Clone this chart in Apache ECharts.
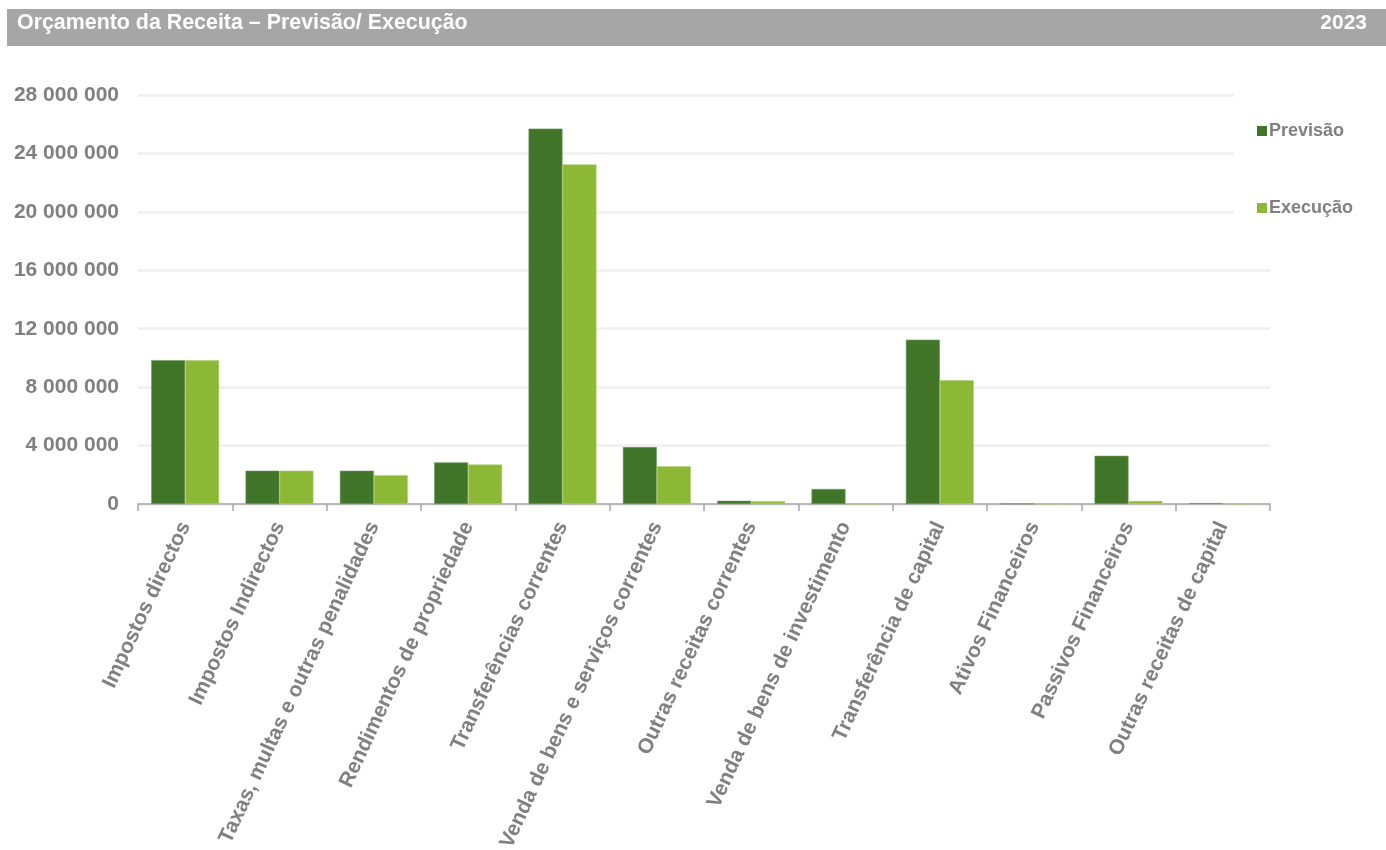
<!DOCTYPE html>
<html><head><meta charset="utf-8">
<script src="https://cdn.jsdelivr.net/npm/echarts@6/dist/echarts.min.js"></script>
<style>html,body{margin:0;padding:0;background:#fff}#c{width:1386px;height:850px}</style>
</head><body><div id="c"></div>
<script>
const titleText = 'Orçamento da Receita – Previsão/ Execução';
const yearText = '2023';
const categories = ['Impostos directos','Impostos Indirectos','Taxas, multas e outras penalidades','Rendimentos de propriedade','Transferências correntes','Venda de bens e serviços correntes','Outras receitas correntes','Venda de bens de investimento','Transferência de capital','Ativos Financeiros','Passivos Financeiros','Outras receitas de capital'];
const previsao = [9850000, 2280000, 2280000, 2850000, 25700000, 3900000, 220000, 1030000, 11250000, 20000, 3300000, 60000];
const execucao = [9850000, 2280000, 1980000, 2700000, 23250000, 2580000, 200000, 20000, 8480000, 15000, 210000, 20000];
const seriesNames = ['Previsão','Execução'];
const yTicks = {min:0, max:28000000, interval:4000000};

const chart = echarts.init(document.getElementById('c'));
const gray = '#808080';
const font = '"Liberation Sans", Arial, sans-serif';
chart.setOption({
  animation:false,
  textStyle:{fontFamily:font},
  graphic:[
    {type:'rect', shape:{x:7,y:9,width:1379,height:37}, style:{fill:'#a6a6a6'}, z:10},
    {type:'text', left:17, top:13, style:{text:titleText, fill:'#fff', font:'bold 21.4px '+font}, z:11},
    {type:'text', right:19, top:13, style:{text:yearText, fill:'#fff', font:'bold 21px '+font}, z:11}
  ],
  legend:{
    orient:'vertical', left:1234, top:88, padding:[34,30,20,23], itemGap:59,
    backgroundColor:'#fff', itemWidth:10, itemHeight:10, icon:'rect', itemStyle:{borderWidth:0},
    textStyle:{color:gray, fontSize:18, fontWeight:'bold', fontFamily:font, padding:[0,0,0,-3]},
    data:seriesNames, z:5
  },
  grid:{left:138, right:116, top:95, bottom:346, containLabel:false, outerBoundsMode:'none'},
  xAxis:{
    type:'category', data:categories,
    axisLine:{lineStyle:{color:'#a6a6a6', width:1.5}},
    axisTick:{show:true, length:7, lineStyle:{color:'#a6a6a6', width:1.5}},
    axisLabel:{rotate:65, interval:0, color:gray, fontSize:21, fontWeight:'bold', fontFamily:font, margin:19}
  },
  yAxis:{
    type:'value', min:yTicks.min, max:yTicks.max, interval:yTicks.interval,
    axisLine:{show:false}, axisTick:{show:false},
    splitLine:{lineStyle:{color:'#efefef', width:2.5}},
    axisLabel:{color:gray, fontSize:21, fontWeight:'bold', fontFamily:font, margin:19,
      formatter:v=>String(v).replace(/\B(?=(\d{3})+(?!\d))/g,' ')}
  },
  series:[
    {name:seriesNames[0], type:'bar', data:previsao, barGap:'0%', barCategoryGap:'28%',
     itemStyle:{color:'#41762a', borderColor:'#6f9a5e', borderWidth:0.6}},
    {name:seriesNames[1], type:'bar', data:execucao, barGap:'0%', barCategoryGap:'28%',
     itemStyle:{color:'#8cb836', borderColor:'#b0d070', borderWidth:0.6}}
  ]
});
</script></body></html>
